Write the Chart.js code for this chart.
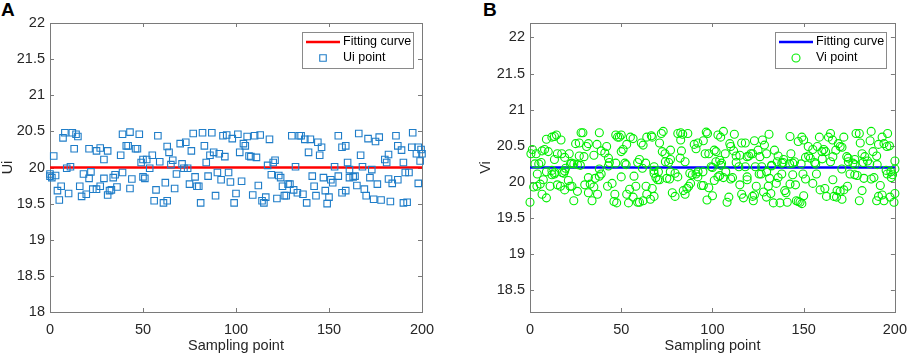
<!DOCTYPE html>
<html>
<head>
<meta charset="utf-8">
<script src="https://cdn.jsdelivr.net/npm/chart.js@4.4.1/dist/chart.umd.min.js"></script>
<style>
  html, body { margin: 0; padding: 0; background: #fff; overflow: hidden; width: 913px; height: 355px; }
  canvas { position: absolute; top: 0; }
  #chartA { left: 0; }
  #chartB { left: 476px; }
  .tag { position: absolute; top: 0; font: bold 19px/19px "Liberation Sans", Arial, sans-serif; color: #000; }
</style>
</head>
<body>
<div class="tag" style="left:1px">A</div>
<div class="tag" style="left:483px">B</div>
<canvas id="chartA" width="456" height="355"></canvas>
<canvas id="chartB" width="440" height="355"></canvas>
<script>
// x axis shared by both panels
const xTicks = [0, 50, 100, 150, 200];
const fitX = [0, 200];

// panel A: Ui samples and fitted value
const yTicksA = [18, 18.5, 19, 19.5, 20, 20.5, 21, 21.5, 22];
const fitA = [20, 20];
const uiX = [0, 0, 1, 2, 3, 4, 5, 6, 7, 8, 9, 10, 11, 12, 13, 14, 15, 16, 17, 18, 19.5, 21, 21, 22, 23, 25, 25, 27, 27, 29,
  29, 31, 31, 32, 33, 34, 35, 36, 38, 39, 39, 41, 42, 43, 43, 44, 46, 47, 48, 49, 50, 50, 51, 52, 53.6, 55, 56, 57, 58, 59,
  61, 62, 63, 63, 64, 65, 66, 67, 68, 70, 71, 72, 73, 74, 75, 76, 77, 78, 79, 80, 81, 82, 83, 84, 85, 86, 87, 88, 89, 90,
  91, 92, 93, 94, 95, 96, 97, 98, 99, 100, 101, 102, 103, 104, 105, 106, 107, 108, 109, 110, 111, 112, 113, 114, 115, 116, 117, 118, 119, 120,
  121, 122, 123, 124, 125, 126, 127, 128, 129, 130, 131, 132, 133, 134, 135, 136, 137, 138, 139, 140, 141, 142, 143, 144, 145, 146, 147, 148, 149, 150,
  151, 152, 153, 155, 155, 157, 157, 159, 159, 160, 161, 161, 163, 164, 165, 166, 167, 168, 169, 170, 171, 172, 173, 174, 175, 176, 177, 178, 180, 181,
  182, 182, 183, 184, 186, 187, 187, 189, 190, 190, 191, 192, 193, 194.5, 195, 197, 198, 198, 199, 199.5, 200];
const uiY = [19.91, 19.88, 19.86, 20.16, 19.89, 19.68, 19.55, 19.74, 20.41, 20.48, 19.99, 19.64, 20.01, 20.48, 20.26, 20.46, 20.43, 19.74, 19.60, 19.91, 19.63, 20.26, 19.85, 19.94, 19.70, 20.23, 19.70, 20.27, 19.74, 20.11,
  19.85, 20.23, 19.62, 19.68, 19.69, 19.86, 19.90, 19.73, 20.17, 20.46, 19.93, 20.30, 20.30, 20.49, 19.71, 19.84, 20.26, 20.26, 20.46, 20.07, 20.11, 19.87, 19.85, 20.11, 19.99, 20.17, 19.54, 19.69, 20.44, 20.08,
  19.51, 19.79, 20.29, 19.54, 20.21, 20.04, 20.10, 19.71, 19.91, 20.33, 20.05, 19.99, 20.35, 19.99, 19.77, 20.23, 20.47, 19.87, 19.74, 19.74, 19.51, 20.48, 20.30, 20.07, 19.88, 20.17, 20.48, 20.21, 19.61, 19.93,
  20.19, 19.83, 20.44, 20.15, 20.45, 19.93, 19.80, 20.40, 19.51, 19.64, 20.46, 20.21, 19.81, 20.33, 20.30, 20.43, 20.16, 20.15, 19.62, 20.44, 20.14, 19.75, 20.45, 19.54, 19.51, 19.59, 20.03, 20.39, 19.90, 20.07,
  20.10, 19.57, 19.89, 19.86, 19.74, 19.61, 19.61, 19.77, 19.77, 20.44, 19.69, 20.01, 19.65, 20.44, 20.44, 19.63, 20.39, 19.51, 20.21, 20.39, 19.88, 19.74, 19.61, 20.35, 20.17, 20.28, 19.86, 19.68, 19.50, 19.59,
  19.83, 19.79, 20.01, 20.44, 19.88, 20.28, 19.65, 20.30, 19.68, 20.07, 19.97, 19.86, 19.87, 19.88, 19.75, 20.47, 20.17, 20.01, 19.70, 19.61, 20.40, 19.86, 19.97, 19.56, 20.36, 19.77, 20.42, 19.55, 20.11, 20.07,
  20.18, 19.84, 19.53, 19.78, 20.44, 20.30, 19.83, 20.24, 20.07, 19.51, 19.93, 19.52, 19.93, 20.28, 20.48, 20.19, 20.28, 19.78, 20.09, 20.25, 20.19];

// panel B: Vi samples and fitted value
const yTicksB = [18.5, 19, 19.5, 20, 20.5, 21, 21.5, 22];
const fitB = [20.2, 20.2];
const viX = [0.5, 1.3, 2.7, 3.4, 4.8, 6.6, 8, 9, 10, 12, 13.4, 14.5, 13.4, 15, 17, 17.4, 19, 19.5, 21.5, 22.8, 25, 27, 27, 28, 29, 29.6, 31, 32, 35, 36.7,
  38, 39, 41, 42, 43, 43.5, 47, 48, 49, 50, 50, 51, 52, 53, 55, 56.5, 60, 61, 62, 64, 66.5, 67, 68, 71, 72, 73, 72.5, 74, 76, 77,
  77, 81, 82.6, 83.7, 86.5, 82.6, 83, 85, 90, 91, 92, 95, 96.6, 97.3, 96, 98, 100, 101, 102, 103, 104.5, 106, 104, 105, 107, 109.5, 110, 111.6, 112, 113,
  115, 116, 118, 119, 121, 122, 123, 125, 126, 127.4, 128.5, 129.6, 131, 132.4, 134, 136, 138, 139, 142.5, 143, 144, 147, 149, 150, 151, 152.5, 153.6, 155, 156, 157.5,
  158.6, 160, 161, 162, 163.6, 164.7, 165.8, 166, 167.6, 169, 170, 171, 172, 173.6, 174.4, 177, 178, 178.7, 180.5, 181, 182, 183.5, 185, 187, 186.4, 188, 190, 191, 193, 194,
  195.6, 196, 197, 200,
  0, 2, 3.8, 4, 5.6, 6.6, 7.3, 9, 11, 12, 13.4, 15, 16.7, 18.5, 19, 21, 22, 23, 24, 26, 30, 32, 32, 33, 34, 35, 35.7, 37, 38, 39,
  42.5, 45, 46, 46.5, 47.5, 50, 53, 54, 54.6, 56.5, 57, 58, 59, 60, 62, 63.6, 64, 66, 67, 68, 68, 69, 70, 71, 75, 76.5, 78, 79.5, 81, 84,
  85, 86, 87, 88, 89, 91, 92, 94, 95, 97, 98, 100, 101, 103, 104, 106, 108, 109, 110, 111, 115, 116, 117, 119, 119, 122, 123, 122.4, 124, 125.6,
  126.7, 128, 129.6, 130.6, 131.3, 132, 133.4, 135, 136, 137, 138, 139.6, 140.3, 141, 142.5, 144, 145.5, 146, 147, 148, 149, 150, 149.6, 151, 155, 157, 159, 161.6, 162.5, 166,
  166.5, 168, 168.3, 170, 171, 172, 174, 175.4, 178, 179.4, 180.5, 182, 183, 187, 188.5, 190, 191, 192, 193, 194, 195.8, 197.3, 198.7, 199.5, 200, 198,
  6.1, 9, 12, 13.6, 17.6, 19, 22.2, 24, 26, 27.6, 38, 43, 47, 52.7, 59, 61.6, 63.4, 67.9, 70.4, 74.2, 76.9, 79.5, 82.3, 87.6, 92.1, 94.8, 99.3, 101.9, 104.6, 107.3,
  113, 114.5, 118, 119.9, 123.5, 127, 129.7, 132.4, 135.5, 138.7, 142.3, 145, 148.6, 152.7, 156.6, 160.2, 164.7, 170.9, 174.5, 178.1, 182.6, 186.2, 190.3, 195.2, 197.8, 200];
const viY = [20.39, 20.45, 20.25, 20.39, 20.25, 20.43, 20.45, 20.59, 20.42, 20.62, 20.63, 20.65, 20.31, 20.39, 20.58, 20.39, 20.34, 20.19, 20.39, 20.26, 20.53, 20.54, 20.36, 20.68, 20.68, 20.35, 20.49, 20.53, 20.37, 20.52,
  20.68, 20.43, 20.40, 20.49, 20.33, 20.27, 20.65, 20.62, 20.62, 20.65, 20.42, 20.45, 20.26, 20.52, 20.62, 20.60, 20.31, 20.54, 20.51, 20.62, 20.64, 20.62, 20.21, 20.54, 20.67, 20.70, 20.42, 20.39, 20.27, 20.31,
  20.44, 20.67, 20.68, 20.66, 20.67, 20.58, 20.43, 20.28, 20.52, 20.46, 20.54, 20.57, 20.69, 20.67, 20.39, 20.39, 20.20, 20.44, 20.42, 20.65, 20.62, 20.70, 20.30, 20.26, 20.39, 20.53, 20.49, 20.43, 20.66, 20.27,
  20.37, 20.54, 20.54, 20.35, 20.39, 20.39, 20.57, 20.44, 20.35, 20.58, 20.51, 20.39, 20.66, 20.22, 20.44, 20.36, 20.26, 20.31, 20.63, 20.39, 20.26, 20.56, 20.62, 20.58, 20.34, 20.49, 20.33, 20.45, 20.27, 20.49,
  20.62, 20.42, 20.45, 20.42, 20.62, 20.67, 20.58, 20.35, 20.44, 20.53, 20.49, 20.48, 20.62, 20.35, 20.33, 20.26, 20.31, 20.67, 20.67, 20.54, 20.39, 20.35, 20.29, 20.70, 20.57, 20.42, 20.36, 20.52, 20.62, 20.53,
  20.49, 20.67, 20.50, 20.29,
  19.72, 19.93, 19.94, 20.11, 19.97, 19.83, 20.03, 19.78, 19.94, 20.10, 20.11, 19.96, 19.94, 20.12, 19.89, 20.02, 19.94, 19.94, 19.74, 19.87, 19.96, 20.06, 19.85, 19.97, 19.74, 19.93, 20.05, 19.83, 20.08, 20.11,
  19.94, 19.98, 19.73, 19.83, 19.71, 20.07, 19.83, 19.71, 19.90, 19.79, 20.08, 19.94, 19.72, 19.72, 19.74, 19.94, 19.83, 19.76, 19.91, 19.80, 20.12, 20.06, 20.03, 20.03, 20.05, 20.04, 19.85, 19.80, 20.07, 19.88,
  19.83, 19.91, 19.94, 19.98, 20.10, 20.11, 20.07, 19.95, 19.95, 19.75, 19.92, 19.81, 20.02, 20.07, 20.09, 20.06, 19.72, 19.79, 20.04, 20.06, 19.96, 19.83, 19.78, 20.07, 20.03, 19.80, 19.82, 19.74, 19.94, 20.11,
  20.11, 19.86, 19.79, 19.94, 20.05, 19.84, 19.71, 19.98, 20.06, 19.71, 20.11, 19.88, 19.85, 19.72, 19.97, 20.10, 19.96, 19.74, 19.73, 19.72, 19.70, 19.81, 20.11, 20.04, 19.98, 20.11, 19.89, 19.91, 19.80, 20.03,
  19.80, 19.79, 19.88, 19.87, 19.76, 19.89, 19.94, 20.11, 20.10, 20.09, 19.74, 19.88, 20.05, 20.04, 20.06, 19.74, 19.80, 19.95, 19.82, 19.74, 20.11, 19.79, 20.10, 19.72, 19.84, 20.06,
  20.27, 20.14, 20.16, 20.13, 20.13, 20.15, 20.25, 20.25, 20.24, 20.23, 20.18, 20.22, 20.26, 20.24, 20.27, 20.19, 20.26, 20.16, 20.14, 20.28, 20.14, 20.12, 20.33, 20.12, 20.14, 20.14, 20.21, 20.28, 20.23, 20.14,
  20.36, 20.21, 20.21, 20.36, 20.21, 20.21, 20.14, 20.23, 20.28, 20.27, 20.25, 20.28, 20.25, 20.36, 20.25, 20.32, 20.28, 20.18, 20.28, 20.24, 20.27, 20.25, 20.24, 20.16, 20.14, 20.18];

const FONT = "'Liberation Sans', Arial, sans-serif";
const TXT = "#262626";
const AXIS = "#7a7a7a";

function pairs(xs, ys) {
  return xs.map((x, i) => ({ x: x, y: ys[i] }));
}

// MATLAB style box with inward ticks on all four sides
const boxPlugin = {
  id: "box",
  beforeDatasetsDraw(chart) {
    const { ctx, chartArea: a, scales } = chart;
    ctx.save();
    ctx.strokeStyle = AXIS;
    ctx.lineWidth = 1;
    ctx.strokeRect(Math.round(a.left) + 0.5, Math.round(a.top) + 0.5, Math.round(a.right - a.left), Math.round(a.bottom - a.top));
    ctx.beginPath();
    scales.x.ticks.forEach((t) => {
      const px = Math.round(scales.x.getPixelForValue(t.value)) + 0.5;
      ctx.moveTo(px, a.bottom); ctx.lineTo(px, a.bottom - 4);
      ctx.moveTo(px, a.top); ctx.lineTo(px, a.top + 4);
    });
    scales.y.ticks.forEach((t) => {
      const py = Math.round(scales.y.getPixelForValue(t.value)) + 0.5;
      ctx.moveTo(a.left, py); ctx.lineTo(a.left + 4, py);
      ctx.moveTo(a.right, py); ctx.lineTo(a.right - 4, py);
    });
    ctx.stroke();
    ctx.restore();
  },
};

// small boxed legend in the top right corner of the plot
const boxLegend = {
  id: "boxLegend",
  afterDatasetsDraw(chart) {
    const { ctx, chartArea: a } = chart;
    const line = chart.data.datasets[1];
    const pts = chart.data.datasets[0];
    const w = 111, h = 36;
    const left = Math.round(a.right - 9 - w), top = Math.round(a.top + 9);
    ctx.save();
    ctx.fillStyle = "#fff";
    ctx.fillRect(left, top, w, h);
    ctx.strokeStyle = "#8a8a8a";
    ctx.lineWidth = 1;
    ctx.strokeRect(left + 0.5, top + 0.5, w, h);
    ctx.strokeStyle = line.borderColor;
    ctx.lineWidth = line.borderWidth;
    ctx.beginPath();
    ctx.moveTo(left + 4, top + 10);
    ctx.lineTo(left + 38, top + 10);
    ctx.stroke();
    // marker sample: white fill, series colour outline
    ctx.fillStyle = "#fff";
    ctx.strokeStyle = pts.borderColor;
    ctx.lineWidth = pts.borderWidth;
    Chart.helpers.drawPoint(ctx, {
      pointStyle: pts.pointStyle, radius: pts.pointRadius, borderWidth: pts.borderWidth, rotation: 0,
    }, left + 21, top + 26);
    ctx.fillStyle = "#000";
    ctx.font = "12.5px " + FONT;
    ctx.textBaseline = "middle";
    ctx.fillText(line.label, left + 41, top + 10);
    ctx.fillText(pts.label, left + 41, top + 26);
    ctx.restore();
  },
};

function makePanel(id, o) {
  return new Chart(document.getElementById(id), {
    data: {
      datasets: [
        {
          type: "scatter",
          label: o.ptLabel,
          data: o.points,
          pointStyle: o.pointStyle,
          pointRadius: o.radius,
          borderColor: o.ptColor,
          backgroundColor: "rgba(0,0,0,0)",
          borderWidth: 1.1,
          clip: false,
          order: 1,
        },
        {
          type: "line",
          label: "Fitting curve",
          data: pairs(fitX, o.fit),
          borderColor: o.lineColor,
          borderWidth: 2.6,
          pointRadius: 0,
          order: 2,
        },
      ],
    },
    options: {
      responsive: false,
      animation: false,
      events: [],
      layout: { padding: { top: 23, right: o.padRight, left: 0, bottom: 0 } },
      plugins: { legend: { display: false }, tooltip: { enabled: false } },
      scales: {
        x: {
          type: "linear",
          min: 0,
          max: 200,
          grid: { display: false, drawTicks: false },
          border: { display: false },
          afterBuildTicks: (s) => { s.ticks = xTicks.map((v) => ({ value: v })); },
          afterFit: (s) => { s.height = 43; },
          ticks: { padding: 9, color: TXT, font: { family: FONT, size: 14.5 }, maxRotation: 0 },
          title: { display: true, text: "Sampling point", color: TXT, font: { family: FONT, size: 14.5 }, padding: 0 },
        },
        y: {
          type: "linear",
          min: o.yMin,
          max: o.yMax,
          grid: { display: false, drawTicks: false },
          border: { display: false },
          afterBuildTicks: (s) => { s.ticks = o.yTicks.map((v) => ({ value: v })); },
          afterFit: (s) => { s.width = o.axisWidth; },
          ticks: { padding: 5, color: TXT, font: { family: FONT, size: 14.5 }, callback: (v) => String(v) },
          title: { display: true, text: o.yLabel, color: TXT, font: { family: FONT, size: 14.5 }, padding: { top: o.titlePad, bottom: 0 } },
        },
      },
    },
    plugins: [boxPlugin, boxLegend],
  });
}

makePanel("chartA", {
  points: pairs(uiX, uiY), fit: fitA, ptLabel: "Ui point", pointStyle: "rect", radius: 4.6,
  ptColor: "#1f7dc8", lineColor: "#ff0000", yMin: 18, yMax: 22, yTicks: yTicksA,
  yLabel: "Ui", axisWidth: 50, padRight: 34, titlePad: -1,
});

makePanel("chartB", {
  points: pairs(viX, viY), fit: fitB, ptLabel: "Vi point", pointStyle: "circle", radius: 4,
  ptColor: "#00ee00", lineColor: "#0000ff", yMin: 18.2, yMax: 22.2, yTicks: yTicksB,
  yLabel: "Vi", axisWidth: 54, padRight: 14, titlePad: 1,
});
</script>
</body>
</html>
